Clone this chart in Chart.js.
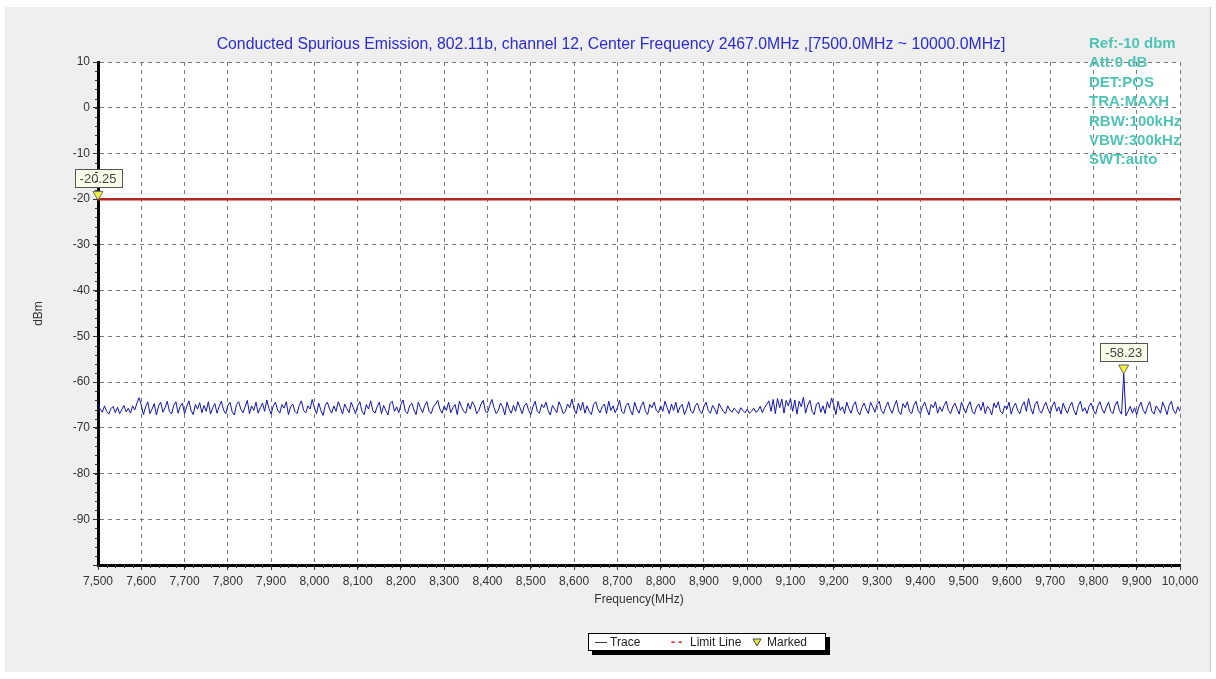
<!DOCTYPE html>
<html>
<head>
<meta charset="utf-8">
<script src="https://cdn.jsdelivr.net/npm/chart.js@4/dist/chart.umd.min.js"></script>
<style>
  body { margin: 0; background: #fff; font-family: "Liberation Sans", Arial, sans-serif; }
  #wrap { position: relative; width: 1216px; height: 679px; overflow: hidden; }
  #panel { position: absolute; left: 5px; top: 7px; width: 1205px; height: 665px; background: #efefef; border-right: 1px solid #c8c8c8; }
  #chart { position: absolute; left: 0; top: 0; }
  #title { position: absolute; left: 0; top: 35px; width: 1222px; text-align: center; color: #2b2bd6; font-size: 15.8px; white-space: nowrap; }
  #info { position: absolute; left: 1089px; top: 33px; color: #4fc4b6; font-size: 15px; font-weight: bold; line-height: 19.4px; }
  #legend { position: absolute; left: 588px; top: 633px; width: 236px; height: 16px; background: #fff; border: 1px solid #000; box-shadow: 4px 4px 0 #000; font-size: 12px; color: #222; line-height: 16px; white-space: nowrap; }
  #legend span { position: absolute; top: 0; }
  #legend svg { position: absolute; top: 4px; }
</style>
</head>
<body>
<div id="wrap">
  <div id="panel"></div>
  <canvas id="chart" width="1216" height="679"></canvas>
  <div id="title">Conducted Spurious Emission, 802.11b, channel 12, Center Frequency 2467.0MHz ,[7500.0MHz ~ 10000.0MHz]</div>
  <div id="info">Ref:-10 dbm<br>Att:0 dB<br>DET:POS<br>TRA:MAXH<br>RBW:100kHz<br>VBW:300kHz<br>SWT:auto</div>
  <div id="legend">
    <span style="left:6px;">— Trace</span>
    <span style="left:82px;color:#d0202a;font-weight:bold;">- -</span>
    <span style="left:101px;">Limit Line</span>
    <svg style="left:163px;" width="10" height="9"><polygon points="1,1 9,1 5,8" fill="#e8e83a" stroke="#444" stroke-width="1"/></svg>
    <span style="left:178px;">Marked</span>
  </div>
</div>
<script>
// sweep settings (MHz)
const freqStart = 7500;
const freqStop = 10000;
const freqStep = 5;

// trace readings, dBm, one per 5 MHz from 7500 to 10000
const traceDbm = [
  -64.8,-65.9,-66.6,-65.2,-66.4,-67.0,-65.8,-65.3,-66.7,-65.5,-66.9,-66.0,-65.1,-66.5,-65.7,-66.8,-65.2,-66.1,-64.6,-63.4,
  -65.0,-67.1,-65.4,-64.3,-66.9,-65.9,-64.7,-67.2,-65.2,-64.4,-66.6,-65.6,-64.2,-66.4,-67.0,-65.1,-64.3,-66.8,-65.3,-64.6,
  -66.9,-65.4,-64.1,-66.2,-67.1,-64.9,-65.9,-64.5,-66.7,-65.1,-66.4,-64.3,-67.0,-65.6,-64.7,-66.8,-65.3,-64.2,-66.1,-66.9,
  -65.1,-64.4,-66.5,-67.2,-64.9,-64.3,-65.9,-66.7,-65.4,-64.0,-66.9,-65.2,-66.2,-64.4,-66.8,-65.6,-64.6,-66.4,-63.9,-65.8,
  -67.0,-65.2,-64.4,-66.1,-66.8,-64.9,-65.7,-64.3,-67.1,-65.4,-64.8,-66.4,-66.9,-65.1,-64.1,-66.2,-66.7,-65.2,-65.9,-63.8,
  -65.6,-66.9,-64.6,-66.2,-67.3,-65.1,-64.4,-65.9,-66.8,-65.2,-66.4,-64.3,-65.5,-67.0,-64.8,-65.8,-66.7,-64.4,-65.6,-66.9,
  -65.2,-64.3,-66.4,-67.1,-64.9,-65.9,-64.1,-66.2,-66.8,-65.4,-64.4,-66.9,-65.1,-66.2,-67.2,-64.6,-64.2,-66.4,-65.4,-66.7,
  -64.9,-63.9,-66.4,-66.9,-65.2,-64.6,-66.1,-67.1,-64.4,-65.6,-66.7,-65.1,-64.3,-66.4,-66.9,-65.4,-64.8,-64.0,-65.9,-66.8,
  -65.2,-66.2,-64.4,-66.7,-65.6,-64.9,-67.1,-64.2,-65.4,-66.4,-66.8,-64.6,-65.9,-64.3,-65.2,-66.9,-66.2,-64.8,-64.0,-66.4,
  -66.7,-65.1,-63.8,-65.6,-66.9,-66.2,-64.6,-65.4,-67.2,-64.4,-65.9,-66.8,-65.1,-66.4,-64.3,-65.6,-66.9,-65.2,-64.6,-66.2,
  -67.1,-65.4,-64.2,-66.4,-66.8,-64.9,-65.6,-64.4,-66.2,-67.2,-65.1,-65.9,-66.7,-64.3,-65.4,-66.9,-66.4,-64.8,-65.6,-63.7,
  -65.9,-66.9,-64.6,-66.2,-64.4,-66.8,-65.2,-66.4,-67.1,-64.9,-64.3,-65.9,-66.7,-65.4,-64.8,-66.9,-64.2,-66.2,-65.2,-66.7,
  -65.6,-64.0,-66.4,-66.9,-65.1,-64.6,-66.2,-67.2,-64.4,-65.9,-66.8,-65.2,-64.3,-66.4,-67.1,-64.9,-65.6,-64.4,-66.2,-66.7,
  -65.2,-66.4,-64.2,-65.6,-66.9,-64.8,-66.2,-64.4,-66.7,-65.4,-64.9,-67.1,-65.9,-64.3,-66.4,-66.8,-65.2,-64.6,-66.2,-66.9,
  -65.4,-64.4,-66.2,-66.8,-65.1,-65.9,-67.0,-64.7,-65.6,-66.4,-66.9,-65.2,-66.1,-66.6,-65.7,-66.3,-66.9,-65.6,-66.2,-66.7,
  -65.9,-66.8,-66.4,-65.7,-66.6,-66.2,-65.3,-66.7,-65.6,-64.9,-64.1,-66.4,-63.8,-66.9,-63.6,-65.6,-63.7,-66.8,-64.0,-65.2,
  -63.6,-66.4,-63.9,-67.0,-64.2,-65.4,-63.3,-66.8,-65.0,-64.0,-66.4,-67.1,-64.8,-64.4,-66.6,-65.2,-66.9,-64.3,-65.7,-63.5,
  -65.0,-67.1,-64.2,-66.2,-65.4,-66.9,-64.4,-65.8,-66.8,-65.1,-64.3,-66.4,-67.2,-65.6,-64.6,-65.9,-66.9,-64.4,-65.4,-66.6,
  -64.9,-64.2,-66.2,-66.9,-65.4,-64.4,-65.9,-66.8,-65.2,-64.0,-66.4,-67.1,-64.7,-65.6,-64.3,-66.4,-66.9,-65.1,-64.2,-66.2,
  -66.9,-65.4,-64.4,-65.9,-67.2,-64.9,-65.6,-64.3,-66.8,-65.4,-66.4,-65.1,-64.2,-66.2,-66.9,-65.4,-64.6,-65.9,-67.0,-64.4,
  -65.6,-66.8,-65.2,-64.3,-66.4,-67.0,-65.4,-64.8,-66.2,-64.4,-66.9,-65.3,-65.9,-67.2,-64.6,-65.6,-64.3,-66.4,-66.9,-65.2,
  -65.9,-64.4,-67.0,-65.4,-64.6,-66.2,-66.9,-65.2,-64.3,-66.4,-63.6,-65.6,-67.0,-64.9,-64.2,-66.2,-66.8,-65.4,-64.4,-65.9,
  -66.9,-65.2,-64.3,-66.4,-65.4,-67.0,-64.6,-65.9,-66.8,-65.3,-64.4,-66.2,-67.2,-65.1,-64.2,-66.4,-65.6,-66.9,-65.3,-64.6,
  -66.2,-67.0,-65.2,-64.3,-65.9,-66.8,-65.4,-64.4,-66.4,-66.9,-65.1,-64.2,-66.2,-67.0,-58.23,-67.4,-66.4,-65.3,-66.8,-65.6,
  -67.1,-65.4,-64.4,-66.2,-66.9,-65.3,-64.3,-66.4,-67.0,-65.2,-65.9,-66.8,-64.4,-65.6,-67.1,-65.1,-64.2,-66.2,-66.9,-65.4,
  -66.4
];

const limitDbm = -20;

// markers
const markerFreqs = [7500, 9870];
const markerDbm = [-20.25, -58.23];

const traceData = traceDbm.map((v, i) => ({ x: freqStart + i * freqStep, y: v }));

const plotBackground = {
  id: 'plotBackground',
  beforeDraw(chart) {
    const { ctx, chartArea: a } = chart;
    ctx.save();
    ctx.fillStyle = '#ffffff';
    ctx.fillRect(a.left, a.top, a.right - a.left, a.bottom - a.top);
    ctx.restore();
  }
};

// small ticks between the labelled ones
const minorTicks = {
  id: 'minorTicks',
  afterDraw(chart) {
    const { ctx, chartArea: a, scales: { x, y } } = chart;
    ctx.save();
    ctx.strokeStyle = '#333';
    ctx.lineWidth = 1;
    ctx.beginPath();
    for (let f = freqStart; f <= freqStop; f += 20) {
      const px = Math.round(x.getPixelForValue(f)) + 0.5;
      ctx.moveTo(px, a.bottom);
      ctx.lineTo(px, a.bottom + 3);
    }
    for (let d = -100; d <= 10; d += 2) {
      const py = Math.round(y.getPixelForValue(d)) + 0.5;
      ctx.moveTo(a.left, py);
      ctx.lineTo(a.left - 3, py);
    }
    ctx.stroke();
    ctx.restore();
  }
};

const markerLabels = {
  id: 'markerLabels',
  afterDatasetsDraw(chart) {
    const { ctx, scales: { x, y } } = chart;
    ctx.save();
    ctx.font = '13px "Liberation Sans", Arial, sans-serif';
    ctx.textAlign = 'center';
    ctx.textBaseline = 'middle';
    markerFreqs.forEach((f, i) => {
      const px = x.getPixelForValue(f);
      const py = y.getPixelForValue(markerDbm[i]);
      // triangle, tip on the reading
      ctx.beginPath();
      ctx.moveTo(px - 5, py - 9);
      ctx.lineTo(px + 5, py - 9);
      ctx.lineTo(px, py);
      ctx.closePath();
      ctx.fillStyle = '#f4f43a';
      ctx.fill();
      ctx.strokeStyle = '#666';
      ctx.lineWidth = 1;
      ctx.stroke();
      const text = markerDbm[i].toFixed(2);
      const w = Math.round(ctx.measureText(text).width) + 10;
      const h = 18;
      const bx = Math.round(px - w / 2) + 0.5;
      const by = Math.round(py - 22 - h / 2) + 0.5;
      ctx.fillStyle = '#fbfbea';
      ctx.fillRect(bx, by, w, h);
      ctx.strokeStyle = '#555';
      ctx.strokeRect(bx, by, w, h);
      ctx.fillStyle = '#444';
      ctx.fillText(text, px, by + h / 2 + 1);
    });
    ctx.restore();
  }
};

Chart.defaults.font.family = '"Liberation Sans", Arial, sans-serif';
Chart.defaults.font.size = 12;
Chart.defaults.color = '#333';

new Chart(document.getElementById('chart'), {
  type: 'line',
  data: {
    datasets: [
      {
        label: 'Trace',
        data: traceData,
        borderColor: '#1212bc',
        borderWidth: 1,
        pointRadius: 0,
        tension: 0
      },
      {
        label: 'Limit Line',
        data: [{ x: freqStart, y: limitDbm }, { x: freqStop, y: limitDbm }],
        borderColor: '#b3261e',
        borderWidth: 2.5,
        pointRadius: 0
      }
    ]
  },
  options: {
    responsive: false,
    animation: false,
    events: [],
    layout: { padding: { left: 0, top: 62, right: 36, bottom: 72 } },
    plugins: {
      legend: { display: false },
      tooltip: { enabled: false }
    },
    scales: {
      x: {
        type: 'linear',
        min: freqStart,
        max: freqStop,
        afterFit: s => { s.height = 42; },
        ticks: {
          stepSize: 100,
          autoSkip: false,
          maxRotation: 0,
          padding: 4,
          color: '#333',
          callback: v => v.toLocaleString('en-US')
        },
        grid: {
          color: '#7a7a7a',
          tickLength: 5,
          tickColor: '#333',
          tickBorderDash: []
        },
        border: { display: true, color: '#000', width: 3, dash: [4, 4] },
        title: { display: true, text: 'Frequency(MHz)', color: '#333', padding: { top: 0, bottom: 0 } }
      },
      y: {
        min: -100,
        max: 10,
        afterFit: s => { s.width = 98; },
        ticks: {
          stepSize: 10,
          padding: 3,
          color: '#333',
          callback: v => (v === -100 ? '' : v)
        },
        grid: {
          color: '#7a7a7a',
          tickLength: 5,
          tickColor: '#333',
          tickBorderDash: []
        },
        border: { display: true, color: '#000', width: 3, dash: [4, 4] },
        title: { display: true, text: 'dBm', color: '#333', padding: { top: 31, bottom: 0 } }
      }
    }
  },
  plugins: [plotBackground, minorTicks, markerLabels]
});
</script>
</body>
</html>
